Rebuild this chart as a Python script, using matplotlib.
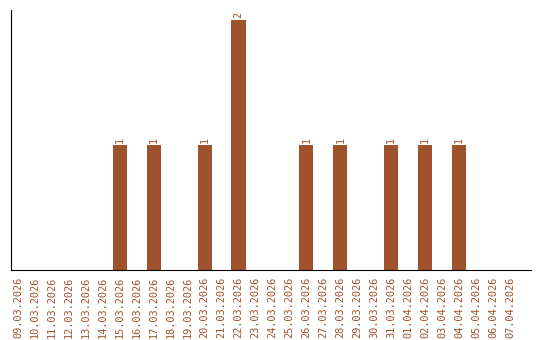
import datetime as dt
import matplotlib
matplotlib.use("Agg")
import matplotlib.pyplot as plt

start = dt.date(2026, 3, 9)
dates = [(start + dt.timedelta(days=i)).strftime("%d.%m.%Y") for i in range(30)]
counts = {"15.03.2026": 1, "17.03.2026": 1, "20.03.2026": 1, "22.03.2026": 2,
          "26.03.2026": 1, "28.03.2026": 1, "31.03.2026": 1, "02.04.2026": 1,
          "04.04.2026": 1}
values = [counts.get(d, 0) for d in dates]

color = "#a0522d"
plt.rcParams["font.family"] = "DejaVu Sans Mono"

fig = plt.figure(figsize=(5.4, 3.4), dpi=100)
ax = fig.add_axes([11 / 540, 70 / 340, 520 / 540, 260 / 340])

x = list(range(len(dates)))
ax.bar(x, values, width=0.83, color=color)
for xi, v in zip(x, values):
    if v:
        ax.text(xi, v + 0.02, str(v), rotation=90, ha="center", va="bottom",
                fontsize=7.3, color=color)

ax.set_xlim(-0.41, len(dates) - 1 + 1.24)
ax.set_ylim(0, 2.08)
ax.set_xticks(x)
ax.set_xticklabels(dates, rotation=90, fontsize=7.4, color=color)
ax.tick_params(axis="x", length=0, pad=5)
ax.set_yticks([])
ax.spines["top"].set_visible(False)
ax.spines["right"].set_visible(False)

fig.savefig("out.png")
